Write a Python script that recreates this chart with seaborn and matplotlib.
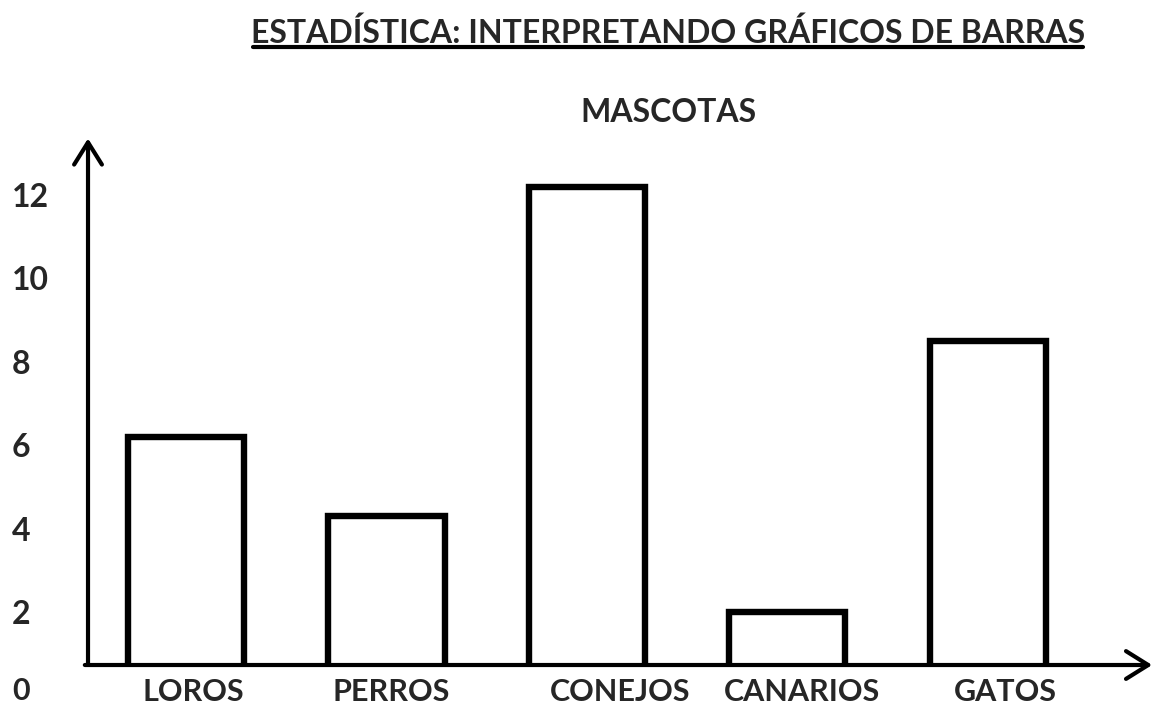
import matplotlib
matplotlib.use("Agg")
import matplotlib.pyplot as plt
from matplotlib.lines import Line2D
from matplotlib.transforms import ScaledTranslation
import seaborn as sns
import pandas as pd

# Data (tick scale: 0 sits below the drawn baseline)
categories = ['LOROS', 'PERROS', 'CONEJOS', 'CANARIOS', 'GATOS']
values = [6.2, 4.3, 12.2, 2.0, 8.5]
y_ticks = [2, 4, 6, 8, 10, 12]

title = 'ESTADÍSTICA: INTERPRETANDO GRÁFICOS DE BARRAS'
subtitle = 'MASCOTAS'

# the category labels sit a little right of their bars (pixels)
label_shift = [7, 5, 33, 15, 18]

sns.set_theme(style="white")
plt.rcParams['font.family'] = ['Lato', 'DejaVu Sans']

df = pd.DataFrame({'Mascota': categories, 'Cantidad': values})

fig = plt.figure(figsize=(11.55, 7.07), dpi=100)
ax = fig.add_axes([0.0762, 0.0594, 0.9195, 0.7426])

sns.barplot(
    data=df, x='Mascota', y='Cantidad', ax=ax,
    width=0.58, color='white', saturation=1,
    edgecolor='black', linewidth=4.6
)

ax.set_xlim(-0.49, 4.81)
ax.set_ylim(0.73, 13.32)

for s in ax.spines.values():
    s.set_visible(False)

# hand-drawn style axes with open arrow heads
arrow = dict(arrowstyle='->,head_length=0.8,head_width=0.5', lw=3,
             mutation_scale=20, color='black', shrinkA=0, shrinkB=0)
ax.annotate('', xy=(0, 1.003), xytext=(0, 0), xycoords='axes fraction',
            arrowprops=arrow, annotation_clip=False)
ax.annotate('', xy=(1.002, 0), xytext=(-0.003, 0), xycoords='axes fraction',
            arrowprops=arrow, annotation_clip=False)

ax.set_yticks(y_ticks)
ax.set_yticklabels([str(t) for t in y_ticks])
ax.tick_params(axis='y', length=0, pad=55, labelsize=23)
for lab in ax.get_yticklabels():
    lab.set_horizontalalignment('left')
    lab.set_fontweight('bold')
ax.text(-0.0716, -0.1, '0', transform=ax.get_yaxis_transform(), ha='left',
        va='baseline', fontsize=22, fontweight='bold', clip_on=False)

ax.tick_params(axis='x', length=0, pad=9, labelsize=22)
for lab, dx in zip(ax.get_xticklabels(), label_shift):
    lab.set_fontweight('bold')
    lab.set_transform(lab.get_transform() + ScaledTranslation(dx / 100, 0, fig.dpi_scale_trans))
ax.set_xlabel('')
ax.set_ylabel('')

fig.text(668 / 1155, 1 - 43 / 707, title, ha='center', va='baseline',
         fontsize=23, fontweight='bold')
fig.add_artist(Line2D([253 / 1155, 1083 / 1155], [1 - 47 / 707, 1 - 47 / 707],
                      color='black', lw=3, transform=fig.transFigure))
fig.text(668 / 1155, 1 - 122 / 707, subtitle, ha='center', va='baseline',
         fontsize=23, fontweight='bold')

fig.savefig('out.png', dpi=100, facecolor='white')
